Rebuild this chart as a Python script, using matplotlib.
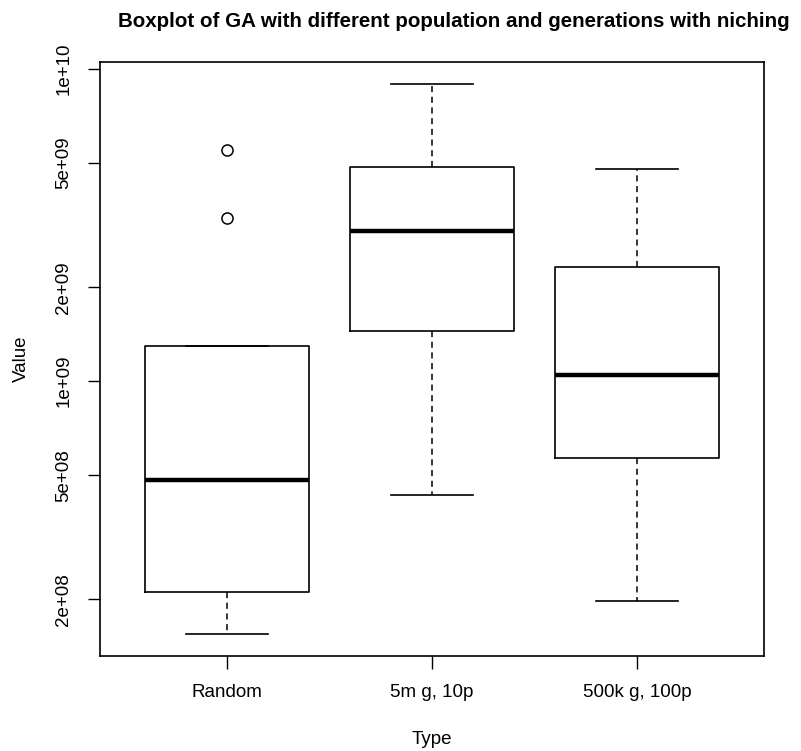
import matplotlib
matplotlib.use("Agg")
import matplotlib.pyplot as plt
import numpy as np

plt.rcParams["font.family"] = ["Liberation Sans", "DejaVu Sans"]

TITLE = "Boxplot of GA with different population and generations with niching"
CATEGORIES = ["Random", "5m g, 10p", "500k g, 100p"]

# five-number summaries
WHISKER_LOW = [1.55e8, 4.31e8, 1.97e8]
Q1 = [2.11e8, 1.45e9, 5.66e8]
MEDIAN = [4.82e8, 3.03e9, 1.045e9]
Q3 = [1.30e9, 4.86e9, 2.32e9]
WHISKER_HIGH = [1.30e9, 8.95e9, 4.78e9]
OUTLIERS = [[5.50e9, 3.33e9], [], []]

Y_TICKS = [2e8, 5e8, 1e9, 2e9, 5e9, 1e10]
Y_TICK_LABELS = ["2e+08", "5e+08", "1e+09", "2e+09", "5e+09", "1e+10"]


def main():
    stats = []
    for i, name in enumerate(CATEGORIES):
        stats.append(
            {
                "label": name,
                "whislo": WHISKER_LOW[i],
                "q1": Q1[i],
                "med": MEDIAN[i],
                "q3": Q3[i],
                "whishi": WHISKER_HIGH[i],
                "fliers": OUTLIERS[i],
            }
        )

    fig = plt.figure(figsize=(8.01, 7.51), dpi=100)
    ax = fig.add_axes([0.1248, 0.1265, 0.9538 - 0.1248, 0.9174 - 0.1265])

    ax.bxp(
        stats,
        positions=[1, 2, 3],
        widths=0.8,
        showfliers=True,
        boxprops=dict(color="black", linewidth=1.2),
        medianprops=dict(color="black", linewidth=3.2, solid_capstyle="butt"),
        whiskerprops=dict(color="black", linewidth=1.1, linestyle=(0, (4, 3))),
        capprops=dict(color="black", linewidth=1.2),
        capwidths=0.4,
        flierprops=dict(marker="o", markerfacecolor="none", markeredgecolor="black",
                        markersize=8, markeredgewidth=1.1),
    )

    ax.set_yscale("log")
    all_vals = WHISKER_LOW + WHISKER_HIGH + [v for o in OUTLIERS for v in o]
    lo, hi = np.log10(min(all_vals)), np.log10(max(all_vals))
    ext = 0.04 * (hi - lo)
    ax.set_ylim(10 ** (lo - ext), 10 ** (hi + ext))
    ax.set_xlim(0.5 - 0.12, 3.5 + 0.12)

    ax.set_yticks(Y_TICKS)
    ax.set_yticklabels(Y_TICK_LABELS, rotation=90, va="center")
    ax.yaxis.set_minor_locator(matplotlib.ticker.NullLocator())
    ax.set_xticks([1, 2, 3])
    ax.set_xticklabels(CATEGORIES)

    ax.tick_params(axis="both", length=9, width=1, labelsize=13.5, pad=11)
    for spine in ax.spines.values():
        spine.set_linewidth(1.2)

    ax.set_xlabel("Type", fontsize=13.5, labelpad=22)
    ax.set_ylabel("Value", fontsize=13.5, labelpad=18)
    ax.set_title(TITLE, fontsize=14.8, fontweight="bold", pad=25, x=0.533)

    fig.savefig("out.png", dpi=100)
    plt.close(fig)


if __name__ == "__main__":
    main()
